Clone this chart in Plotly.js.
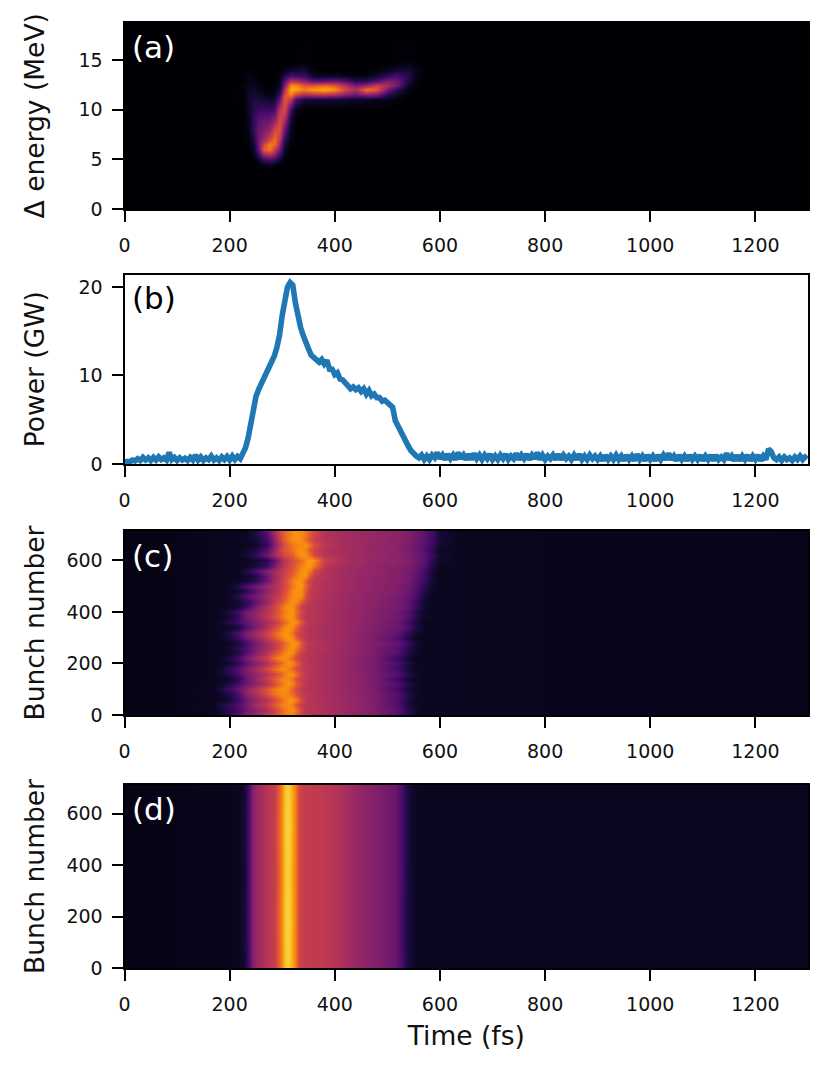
<!DOCTYPE html>
<html>
<head>
<meta charset="utf-8">
<script src="https://cdn.plot.ly/plotly-3.0.1.min.js"></script>
<style>html, body { margin: 0; padding: 0; background: #fff; }</style>
</head>
<body>
<div id="chart" style="width:832px;height:1075px;"></div>
<script>
// values; heatmap cells are normalised intensity 0-1

const xTicks = [0, 200, 400, 600, 800, 1000, 1200];
const panelLabels = ['(a)', '(b)', '(c)', '(d)'];

// inferno
const inferno = [
  [0, '#000004'], [0.1, '#160b39'], [0.2, '#420a68'], [0.3, '#6a176e'], [0.4, '#932667'],
  [0.5, '#bc3754'], [0.6, '#dd513a'], [0.7, '#f37819'], [0.8, '#fca50a'], [0.9, '#f6d746'], [1, '#fcffa4']
];

// (a) energy vs time
const aTime = [0,200,225,235,245,255,265,275,285,295,305,315,325,340,360,380,400,420,440,460,480,500,520,540,555,570,600,1300];
const aEnergy = [0,3,4,4.5,5,5.5,6,6.5,7,8,9,10,11,11.5,12,12.5,13,13.5,14,14.5,15,18.8];
const aZ = [
  [0,0,0,0,0,0,0,0,0,0,0,0,0,0,0,0,0,0,0,0,0,0,0,0,0,0,0,0],
  [0,0,0,0,0,0,0,0,0,0,0,0,0,0,0,0,0,0,0,0,0,0,0,0,0,0,0,0],
  [0,0,0,0,0,0,0,.01,0,0,0,0,0,0,0,0,0,0,0,0,0,0,0,0,0,0,0,0],
  [0,0,0,0,0,.01,.03,.05,.03,.01,0,0,0,0,0,0,0,0,0,0,0,0,0,0,0,0,0,0],
  [0,0,0,0,.01,.06,.18,.24,.20,.08,.01,0,0,0,0,0,0,0,0,0,0,0,0,0,0,0,0,0],
  [0,0,0,0,.03,.18,.42,.46,.38,.20,.03,0,0,0,0,0,0,0,0,0,0,0,0,0,0,0,0,0],
  [0,0,0,0,.06,.28,.62,.70,.52,.32,.06,0,0,0,0,0,0,0,0,0,0,0,0,0,0,0,0,0],
  [0,0,0,.01,.09,.32,.56,.72,.66,.42,.10,.01,0,0,0,0,0,0,0,0,0,0,0,0,0,0,0,0],
  [0,0,0,.02,.12,.32,.42,.56,.68,.50,.16,.02,0,0,0,0,0,0,0,0,0,0,0,0,0,0,0,0],
  [0,0,0,.04,.17,.30,.34,.40,.56,.60,.30,.04,0,0,0,0,0,0,0,0,0,0,0,0,0,0,0,0],
  [0,0,0,.05,.17,.25,.28,.30,.38,.58,.46,.10,.01,0,0,0,0,0,0,0,0,0,0,0,0,0,0,0],
  [0,0,0,.06,.14,.18,.19,.18,.22,.50,.58,.22,.04,.01,0,0,0,0,0,0,0,0,0,0,0,0,0,0],
  [0,0,.01,.07,.11,.10,.09,.07,.10,.30,.62,.50,.22,.10,.08,.08,.08,.07,.06,.05,.04,.03,.01,0,0,0,0,0],
  [0,0,.01,.07,.09,.07,.05,.03,.05,.18,.58,.72,.55,.46,.48,.50,.46,.36,.30,.38,.34,.16,.06,.01,0,0,0,0],
  [0,0,.01,.06,.07,.04,.02,.01,.02,.10,.48,.82,.80,.72,.78,.82,.76,.56,.46,.70,.62,.32,.14,.02,0,0,0,0],
  [0,0,.01,.05,.05,.02,.01,0,.01,.06,.36,.74,.76,.62,.62,.68,.62,.48,.34,.42,.54,.46,.30,.06,.01,0,0,0],
  [0,0,0,.04,.03,.01,0,0,0,.04,.24,.46,.44,.36,.24,.24,.28,.22,.12,.14,.22,.34,.30,.11,.02,0,0,0],
  [0,0,0,.03,.02,0,0,0,0,.02,.12,.22,.18,.18,.06,.05,.06,.04,.02,.03,.07,.16,.21,.13,.03,0,0,0],
  [0,0,0,.01,.01,0,0,0,0,.01,.04,.08,.08,.10,.02,0,0,0,0,.01,.02,.05,.10,.10,.04,.01,0,0],
  [0,0,0,0,0,0,0,0,0,0,.01,.02,.03,.04,.01,0,0,0,0,0,.01,.02,.03,.05,.02,0,0,0],
  [0,0,0,0,0,0,0,0,0,0,0,0,0,.01,0,0,0,0,0,0,0,0,.01,.01,0,0,0,0],
  [0,0,0,0,0,0,0,0,0,0,0,0,0,0,0,0,0,0,0,0,0,0,0,0,0,0,0,0]
];

// (b) power vs time, one line per 50 fs
const bTime = [
  0,5,10,15,20,25,30,35,40,45,
  50,55,60,65,70,75,80,85,90,95,
  100,105,110,115,120,125,130,135,140,145,
  150,155,160,165,170,175,180,185,190,195,
  200,205,210,215,220,225,230,235,240,245,
  250,255,260,265,270,275,280,285,290,295,
  300,305,310,315,320,325,330,335,340,345,
  350,355,360,365,370,375,380,385,390,395,
  400,405,410,415,420,425,430,435,440,445,
  450,455,460,465,470,475,480,485,490,495,
  500,505,510,515,520,525,530,535,540,545,
  550,555,560,565,570,575,580,585,590,595,
  600,605,610,615,620,625,630,635,640,645,
  650,655,660,665,670,675,680,685,690,695,
  700,705,710,715,720,725,730,735,740,745,
  750,755,760,765,770,775,780,785,790,795,
  800,805,810,815,820,825,830,835,840,845,
  850,855,860,865,870,875,880,885,890,895,
  900,905,910,915,920,925,930,935,940,945,
  950,955,960,965,970,975,980,985,990,995,
  1000,1005,1010,1015,1020,1025,1030,1035,1040,1045,
  1050,1055,1060,1065,1070,1075,1080,1085,1090,1095,
  1100,1105,1110,1115,1120,1125,1130,1135,1140,1145,
  1150,1155,1160,1165,1170,1175,1180,1185,1190,1195,
  1200,1205,1210,1215,1220,1225,1230,1235,1240,1245,
  1250,1255,1260,1265,1270,1275,1280,1285,1290,1298
];
const bPower = [
  0.15,0.3,0.25,0.45,0.35,0.6,0.4,0.75,0.45,0.7,
  0.4,0.75,0.45,0.8,0.5,0.7,0.45,1.3,0.5,0.75,
  0.4,0.7,0.45,0.65,0.4,0.75,0.45,1.0,0.45,0.8,
  0.4,0.7,0.5,0.9,0.45,0.7,0.4,0.8,0.5,0.85,
  0.45,0.9,0.5,0.85,0.6,1.2,1.8,2.9,4.6,6.2,
  7.6,8.4,9.0,9.6,10.1,10.7,11.4,12.2,13.2,14.6,
  16.8,18.8,20.0,20.5,20.2,18.2,16.6,15.4,14.5,13.5,
  13.0,12.3,12.0,11.9,11.5,11.8,11.3,11.7,10.7,10.7,
  10.1,10.3,9.6,9.5,9.2,9.0,8.5,8.7,8.4,8.6,
  8.2,8.5,7.9,8.3,7.7,7.9,7.5,7.5,7.1,7.2,
  6.9,6.8,6.4,4.9,4.3,3.6,2.9,2.4,2.0,1.5,
  1.1,0.9,0.7,1.0,0.5,0.9,0.5,1.0,0.7,1.3,
  0.6,1.0,0.5,1.1,0.6,1.0,0.5,1.3,0.6,1.0,
  0.5,1.1,0.5,1.2,0.6,1.0,0.5,1.0,0.6,1.1,
  0.5,0.9,0.5,1.0,0.6,1.1,0.5,0.9,0.6,1.2,
  0.5,1.0,0.6,1.1,0.5,1.0,0.6,1.3,0.5,1.0,
  0.5,0.9,0.6,1.0,0.5,1.1,0.5,1.0,0.6,0.9,
  0.5,1.0,0.5,1.1,0.5,0.9,0.5,1.0,0.6,0.9,
  0.5,0.9,0.4,1.0,0.5,0.9,0.5,1.0,0.5,0.9,
  0.4,1.0,0.5,0.9,0.4,1.1,0.5,0.9,0.4,1.0,
  0.5,0.9,0.4,1.0,0.5,1.0,0.5,1.2,0.5,0.9,
  0.4,1.0,0.5,0.9,0.4,1.0,0.5,0.9,0.5,1.0,
  0.4,0.9,0.5,1.0,0.4,1.0,0.5,0.8,0.5,1.2,
  0.5,0.9,0.4,1.0,0.4,0.9,0.5,1.0,0.4,0.9,
  0.5,1.0,0.4,0.9,0.5,1.7,1.4,0.7,0.5,0.8,
  0.4,0.8,0.5,0.7,0.4,0.8,0.5,0.9,0.5,1.0
];

// (c) bunch by bunch
const cTime = [0,120,170,185,200,215,230,250,270,282,292,302,312,320,328,336,344,352,362,380,420,470,520,540,555,570,585,600,640,1300];
const cBunch = [0,20,40,60,80,100,120,140,160,180,200,220,240,260,280,300,320,340,360,380,400,420,440,460,480,500,520,540,560,580,600,620,640,660,680,714];
const cZ = [
  [.03,.04,.05,.09,.17,.24,.34,.42,.50,.55,.62,.70,.74,.72,.62,.54,.50,.49,.48,.46,.42,.36,.25,.12,.06,.05,.05,.05,.05,.04],
  [.03,.04,.05,.08,.14,.20,.30,.38,.46,.52,.60,.68,.74,.76,.68,.56,.50,.49,.48,.46,.42,.36,.26,.14,.07,.05,.05,.05,.05,.04],
  [.03,.04,.06,.12,.18,.24,.32,.44,.52,.60,.68,.73,.74,.70,.60,.52,.50,.48,.48,.46,.42,.36,.24,.11,.06,.05,.05,.05,.05,.04],
  [.03,.04,.05,.06,.09,.18,.30,.40,.48,.54,.62,.70,.76,.76,.70,.58,.51,.49,.48,.46,.42,.36,.23,.10,.06,.05,.05,.05,.05,.04],
  [.03,.04,.05,.08,.12,.22,.36,.46,.58,.66,.72,.74,.72,.66,.58,.52,.50,.49,.47,.45,.42,.35,.25,.13,.07,.05,.05,.05,.05,.04],
  [.03,.04,.06,.12,.20,.28,.38,.48,.60,.68,.74,.75,.72,.64,.56,.52,.49,.48,.47,.45,.41,.35,.21,.09,.06,.05,.05,.05,.05,.04],
  [.03,.04,.05,.07,.13,.20,.30,.38,.48,.55,.64,.72,.76,.72,.62,.54,.50,.48,.47,.45,.41,.35,.24,.12,.07,.05,.05,.05,.05,.04],
  [.03,.04,.05,.06,.08,.14,.28,.40,.52,.60,.68,.74,.75,.68,.58,.52,.50,.49,.47,.45,.41,.35,.20,.08,.05,.05,.05,.05,.05,.04],
  [.03,.04,.05,.08,.14,.22,.32,.40,.48,.54,.60,.68,.75,.76,.66,.56,.51,.49,.48,.45,.41,.35,.25,.13,.07,.05,.05,.05,.05,.04],
  [.03,.04,.05,.09,.17,.24,.34,.44,.56,.64,.72,.75,.72,.64,.58,.54,.50,.49,.47,.45,.41,.34,.20,.09,.06,.05,.05,.05,.05,.04],
  [.03,.04,.05,.06,.09,.15,.26,.36,.46,.54,.62,.70,.76,.74,.64,.54,.50,.48,.47,.45,.41,.34,.23,.11,.06,.05,.05,.05,.05,.04],
  [.03,.04,.05,.07,.12,.20,.32,.44,.54,.64,.72,.76,.72,.64,.56,.52,.49,.48,.47,.45,.41,.34,.19,.08,.05,.05,.05,.05,.05,.04],
  [.03,.04,.05,.05,.07,.12,.24,.36,.48,.56,.64,.72,.76,.74,.62,.54,.50,.49,.47,.45,.41,.35,.25,.13,.07,.05,.05,.05,.05,.04],
  [.03,.04,.05,.06,.09,.14,.22,.34,.44,.50,.58,.66,.74,.76,.70,.58,.52,.49,.48,.46,.42,.35,.25,.13,.07,.05,.05,.05,.05,.04],
  [.03,.04,.05,.05,.06,.10,.20,.32,.44,.50,.56,.64,.72,.77,.75,.62,.53,.50,.48,.46,.42,.36,.29,.18,.09,.05,.05,.05,.05,.04],
  [.03,.04,.05,.06,.10,.18,.30,.40,.50,.58,.66,.74,.77,.74,.62,.54,.50,.48,.47,.45,.42,.35,.24,.11,.06,.05,.05,.05,.05,.04],
  [.03,.04,.05,.07,.13,.22,.34,.44,.54,.62,.70,.76,.76,.68,.58,.52,.50,.48,.47,.45,.42,.36,.28,.16,.08,.05,.05,.05,.05,.04],
  [.03,.04,.05,.05,.07,.10,.22,.34,.46,.54,.62,.72,.76,.74,.64,.54,.50,.48,.47,.45,.42,.36,.31,.22,.12,.06,.05,.05,.05,.04],
  [.03,.04,.05,.08,.14,.20,.28,.36,.44,.50,.56,.64,.72,.76,.74,.60,.52,.49,.48,.46,.42,.37,.30,.20,.10,.05,.05,.05,.05,.04],
  [.03,.04,.05,.06,.08,.16,.30,.40,.50,.56,.64,.72,.76,.76,.64,.54,.50,.49,.48,.46,.42,.37,.32,.25,.14,.07,.05,.05,.05,.04],
  [.03,.04,.05,.07,.12,.20,.32,.40,.48,.54,.62,.70,.76,.76,.68,.56,.51,.49,.48,.46,.42,.37,.31,.24,.13,.06,.05,.05,.05,.04],
  [.03,.04,.05,.05,.07,.09,.18,.34,.46,.54,.62,.72,.76,.76,.64,.54,.50,.49,.48,.46,.42,.38,.33,.28,.18,.08,.05,.05,.05,.04],
  [.03,.04,.05,.05,.06,.08,.14,.28,.40,.48,.56,.64,.72,.76,.74,.62,.54,.50,.48,.46,.42,.38,.33,.27,.17,.08,.05,.05,.05,.04],
  [.03,.04,.05,.05,.08,.14,.24,.32,.42,.48,.52,.60,.68,.74,.76,.74,.60,.52,.49,.47,.42,.38,.34,.29,.21,.10,.06,.05,.05,.04],
  [.03,.04,.05,.05,.05,.07,.14,.26,.38,.44,.50,.58,.66,.74,.76,.74,.62,.52,.49,.47,.43,.39,.35,.30,.23,.12,.06,.05,.05,.04],
  [.03,.04,.05,.05,.07,.12,.22,.32,.40,.46,.50,.56,.62,.70,.76,.76,.66,.55,.50,.47,.43,.39,.35,.31,.24,.15,.07,.05,.05,.04],
  [.03,.04,.05,.05,.05,.06,.08,.16,.30,.40,.48,.56,.64,.72,.76,.76,.64,.54,.50,.47,.43,.39,.36,.32,.26,.18,.08,.05,.05,.04],
  [.03,.04,.05,.05,.05,.05,.07,.12,.28,.40,.48,.54,.60,.66,.72,.76,.76,.62,.52,.48,.43,.39,.36,.33,.27,.19,.09,.05,.05,.04],
  [.03,.04,.05,.05,.05,.06,.12,.24,.36,.42,.48,.52,.58,.62,.68,.76,.76,.70,.56,.48,.43,.40,.36,.33,.28,.20,.09,.05,.05,.04],
  [.03,.04,.05,.05,.05,.05,.06,.10,.18,.30,.42,.50,.56,.60,.66,.72,.76,.78,.68,.50,.44,.40,.37,.34,.30,.24,.12,.06,.05,.04],
  [.03,.04,.05,.05,.05,.05,.06,.08,.14,.24,.36,.48,.54,.58,.62,.68,.74,.78,.74,.54,.45,.41,.38,.35,.31,.26,.15,.07,.05,.04],
  [.03,.04,.05,.05,.05,.06,.09,.18,.30,.40,.50,.56,.60,.64,.72,.76,.76,.68,.56,.49,.45,.41,.38,.35,.31,.26,.18,.08,.05,.04],
  [.03,.04,.05,.05,.05,.05,.07,.12,.24,.36,.50,.60,.64,.68,.74,.76,.72,.62,.54,.48,.44,.40,.37,.34,.30,.24,.14,.06,.05,.04],
  [.03,.04,.05,.05,.05,.05,.05,.08,.16,.30,.46,.58,.64,.70,.72,.74,.76,.70,.58,.50,.44,.41,.38,.34,.30,.25,.18,.08,.05,.04],
  [.03,.04,.05,.05,.05,.05,.06,.10,.20,.34,.50,.62,.70,.74,.76,.74,.68,.60,.54,.48,.44,.41,.38,.35,.31,.26,.20,.10,.05,.04],
  [.03,.04,.05,.05,.05,.05,.06,.12,.26,.40,.54,.64,.70,.74,.76,.74,.70,.64,.56,.48,.44,.41,.38,.35,.31,.27,.20,.10,.05,.04]
];

// (d) simulated bunches, almost the same every shot
const dTime = [0,120,200,219,228,235,244,255,270,285,291,298,304,310,316,323,333,345,377,408,440,478,516,528,537,544,553,566,640,1300];
const dBunch = [0,180,360,540,711];
const dZ = [
  [.03,.04,.045,.06,.09,.20,.36,.43,.48,.53,.60,.72,.85,.89,.85,.74,.55,.52,.51,.47,.41,.36,.30,.20,.12,.08,.06,.05,.05,.05],
  [.03,.04,.045,.06,.10,.22,.37,.43,.48,.53,.61,.73,.86,.90,.86,.74,.55,.52,.51,.47,.41,.36,.30,.19,.12,.08,.06,.05,.05,.05],
  [.03,.04,.045,.06,.09,.21,.37,.43,.48,.53,.60,.72,.85,.89,.85,.73,.55,.52,.51,.47,.41,.36,.30,.20,.12,.08,.06,.05,.05,.05],
  [.03,.04,.045,.06,.10,.22,.37,.43,.48,.53,.61,.73,.86,.90,.86,.74,.55,.52,.51,.47,.41,.36,.30,.20,.13,.08,.06,.05,.05,.05],
  [.03,.04,.045,.06,.09,.21,.36,.43,.48,.53,.60,.72,.85,.89,.85,.74,.55,.52,.51,.47,.41,.36,.30,.20,.12,.08,.06,.05,.05,.05]
];

function heat(x, y, z, xaxis, yaxis) {
  return {
    type: 'heatmap', x, y, z, xaxis, yaxis,
    zmin: 0, zmax: 1, zsmooth: 'best',
    colorscale: inferno, showscale: false, hoverinfo: 'skip'
  };
}

const traces = [
  heat(aTime, aEnergy, aZ, 'x', 'y'),
  {
    type: 'scatter', mode: 'lines', x: bTime, y: bPower, xaxis: 'x2', yaxis: 'y2',
    line: { color: '#1f77b4', width: 5.6 }, hoverinfo: 'skip', showlegend: false
  },
  heat(cTime, cBunch, cZ, 'x3', 'y3'),
  heat(dTime, dBunch, dZ, 'x4', 'y4')
];

const FONT = 'DejaVu Sans, sans-serif';
const TICK_FONT = { family: FONT, size: 19, color: '#111' };

function xAxis(anchor, title) {
  return {
    anchor, domain: [124.5 / 832, 808 / 832], range: [0, 1300],
    tickmode: 'array', tickvals: xTicks, ticks: 'outside', ticklen: 11, tickwidth: 2,
    tickcolor: '#000', tickfont: TICK_FONT, ticklabelstandoff: 7,
    showgrid: false, zeroline: false, mirror: true, showline: true, linecolor: '#000', linewidth: 2,
    title: title ? { text: title, font: { family: FONT, size: 26.5, color: '#111' }, standoff: 13 } : undefined
  };
}

function yAxis(anchor, top, bottom, range, tickvals, title, standoff) {
  return {
    anchor, domain: [1 - bottom / 1075, 1 - top / 1075], range,
    tickmode: 'array', tickvals, ticks: 'outside', ticklen: 11, tickwidth: 2,
    tickcolor: '#000', tickfont: TICK_FONT, ticklabelstandoff: 5,
    showgrid: false, zeroline: false, mirror: true, showline: true, linecolor: '#000', linewidth: 2,
    title: { text: title, font: { family: FONT, size: 26.5, color: '#111' }, standoff }
  };
}

const labelY = [47, 298, 556, 809];
const labelColor = ['#fff', '#000', '#fff', '#fff'];

const layout = {
  width: 832, height: 1075,
  margin: { l: 0, r: 0, t: 0, b: 0 },
  paper_bgcolor: '#fff', plot_bgcolor: '#fff', showlegend: false,
  xaxis: xAxis('y'), xaxis2: xAxis('y2'), xaxis3: xAxis('y3'), xaxis4: xAxis('y4', 'Time (fs)'),
  yaxis: yAxis('x', 22.5, 209, [0, 18.8], [0, 5, 10, 15], 'Δ energy (MeV)', 26),
  yaxis2: yAxis('x2', 274.5, 464, [0, 21.4], [0, 10, 20], 'Power (GW)', 26),
  yaxis3: yAxis('x3', 531, 715, [0, 714], [0, 200, 400, 600], 'Bunch number', 14),
  yaxis4: yAxis('x4', 785, 968, [0, 711], [0, 200, 400, 600], 'Bunch number', 14),
  annotations: panelLabels.map((text, i) => ({
    text, xref: 'paper', yref: 'paper', x: 130 / 832, y: 1 - labelY[i] / 1075,
    xanchor: 'left', yanchor: 'middle', showarrow: false,
    font: { family: FONT, size: 31, color: labelColor[i] }
  }))
};

Plotly.newPlot('chart', traces, layout, { displayModeBar: false, responsive: false });
</script>
</body>
</html>
